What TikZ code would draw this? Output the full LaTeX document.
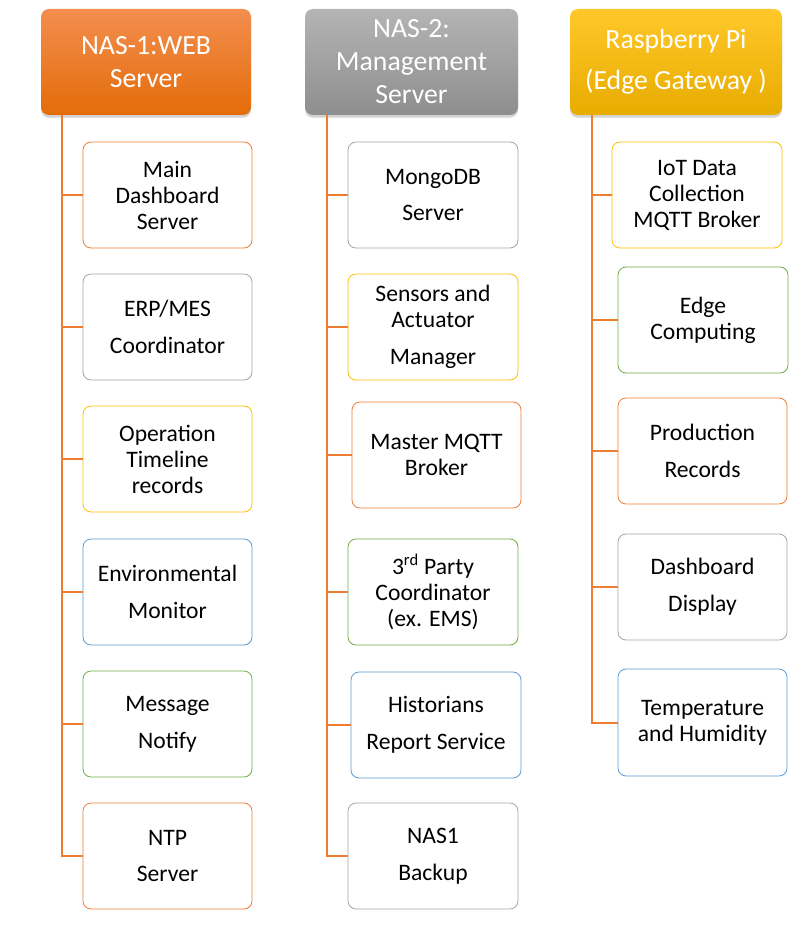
\documentclass[tikz,border=0pt]{standalone}
\usepackage{fontspec}
\setmainfont{Carlito}
\usetikzlibrary{shadows,calc}
\definecolor{lnorange}{HTML}{ED7D31}
\definecolor{bdorange}{HTML}{ED7D31}
\definecolor{bdgray}{HTML}{A5A5A5}
\definecolor{bdyellow}{HTML}{FFC000}
\definecolor{bdblue}{HTML}{5B9BD5}
\definecolor{bdgreen}{HTML}{70AD47}
\definecolor{orTop}{HTML}{F38E4E}
\definecolor{orBot}{HTML}{E46C0A}
\definecolor{grTop}{HTML}{B4B4B4}
\definecolor{grBot}{HTML}{8E8E8E}
\definecolor{goTop}{HTML}{FFC82A}
\definecolor{goBot}{HTML}{E8AC00}
\tikzset{
  header/.style={rounded corners=6pt, align=center, text=white, inner sep=0pt, outer sep=0pt,
    font=\fontsize{20.8pt}{23.25pt}\selectfont,
    drop shadow={opacity=0.35, shadow xshift=0pt, shadow yshift=-2pt}},
  leaf/.style={draw, rounded corners=6pt, fill=white, align=center, inner sep=0pt, outer sep=0pt,
    line width=0.6pt, font=\fontsize{17.7pt}{19.5pt}\selectfont},
  conn/.style={draw=lnorange, line width=1.5pt}
}
\newcommand\leafbox[7]{\node[leaf,draw=#6,minimum width={(#4-#2)*0.75pt},minimum height={(#5-#3)*0.75pt}] (#1) at ({(#2+#4)/2},{(#3+#5)/2}) {#7};}
\newcommand\headbox[8]{\node[header,top color=#6,bottom color=#7,minimum width={(#4-#2)*0.75pt},minimum height={(#5-#3)*0.75pt}] (#1) at ({(#2+#4)/2},{(#3+#5)/2}) {#8};}
\begin{document}
\begin{tikzpicture}[x=0.75pt,y=-0.75pt]
\useasboundingbox (0,0) rectangle (805,927);
% headers
\headbox{h1}{41}{9}{251}{115}{orTop}{orBot}{NAS-1:WEB\\[1pt]Server}
\headbox{h2}{305}{9}{518}{115}{grTop}{grBot}{NAS-2:\\[1.5pt]Management\\[1.5pt]Server}
\headbox{h3}{570}{9}{782}{115}{goTop}{goBot}{Raspberry Pi\\[7.5pt](Edge Gateway )}
% trunk start points
\coordinate (t1) at (62,115);
\coordinate (t2) at (327,115);
\coordinate (t3) at (592,115);
% column 1
\leafbox{a1}{83}{142}{252}{248}{bdorange}{Main\\Dashboard\\Server}
\leafbox{a2}{83}{274}{252}{380}{bdgray}{ERP/MES\\[8pt]Coordinator}
\leafbox{a3}{83}{406}{252}{512}{bdyellow}{Operation\\Timeline\\records}
\leafbox{a4}{83}{539}{252}{645}{bdblue}{Environmental\\[8pt]Monitor}
\leafbox{a5}{83}{671}{252}{777}{bdgreen}{Message\\[8pt]Notify}
\leafbox{a6}{83}{803}{252}{909}{bdorange}{NTP\\[8pt]Server}
% column 2
\leafbox{b1}{348}{142}{518}{248}{bdgray}{MongoDB\\[8pt]Server}
\leafbox{b2}{348}{274}{518}{380}{bdyellow}{Sensors and\\Actuator\\[8pt]Manager}
\leafbox{b3}{352}{402}{521}{508}{bdorange}{Master MQTT\\Broker}
\leafbox{b4}{348}{539}{518}{645}{bdgreen}{3\textsuperscript{rd} Party\\Coordinator\\(ex. EMS)}
\leafbox{b5}{351}{672}{521}{778}{bdblue}{Historians\\[8pt]Report Service}
\leafbox{b6}{348}{803}{518}{909}{bdgray}{NAS1\\[8pt]Backup}
% column 3
\leafbox{c1}{612}{142}{782}{248}{bdyellow}{IoT Data\\Collection\\MQTT Broker}
\leafbox{c2}{618}{267}{788}{373}{bdgreen}{Edge\\Computing}
\leafbox{c3}{618}{398}{787}{504}{bdorange}{Production\\[8pt]Records}
\leafbox{c4}{618}{534}{787}{640}{bdgray}{Dashboard\\[8pt]Display}
\leafbox{c5}{618}{669}{787}{776}{bdblue}{Temperature\\and Humidity}
% connectors
\draw[conn] (t1) |- (a6.west);
\foreach \n in {a1,a2,a3,a4,a5}{\draw[conn] (t1 |- \n.west) -- (\n.west);}
\draw[conn] (t2) |- (b6.west);
\foreach \n in {b1,b2,b3,b4,b5}{\draw[conn] (t2 |- \n.west) -- (\n.west);}
\draw[conn] (t3) |- (c5.west);
\foreach \n in {c1,c2,c3,c4}{\draw[conn] (t3 |- \n.west) -- (\n.west);}
\end{tikzpicture}
\end{document}
